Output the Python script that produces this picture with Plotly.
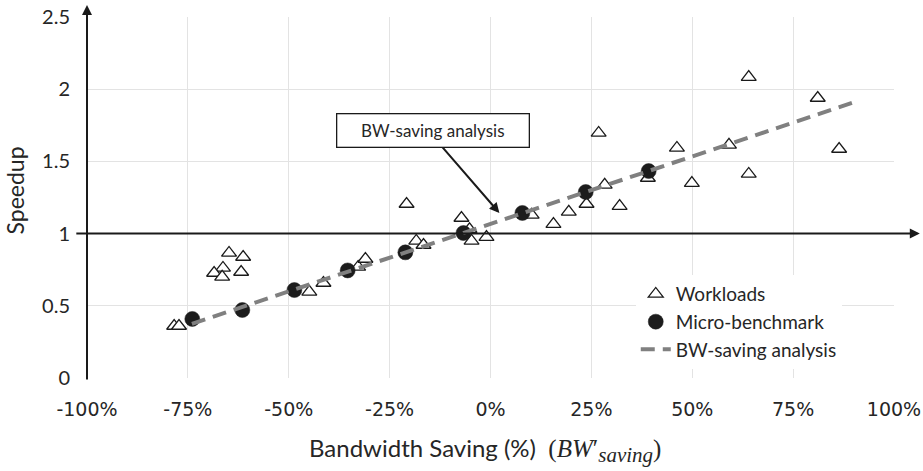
import plotly.graph_objects as go

# ---- data ----
workload_x = [-78.4, -77.2, -64.8, -61.3, -66.3, -68.5, -66.5, -61.8, -44.9, -41.4,
              -32.8, -31.0, -18.4, -16.6, -20.8, -7.2, -5.2, -4.7, -1.0, 10.2,
              15.6, 19.4, 23.8, 26.8, 28.3, 32.0, 39.0, 46.2, 49.9, 59.1,
              64.0, 64.0, 81.1, 86.4]
workload_y = [0.36, 0.36, 0.866, 0.838, 0.762, 0.727, 0.70, 0.734, 0.596, 0.658,
              0.769, 0.824, 0.949, 0.921, 1.205, 1.108, 1.03, 0.949, 0.976, 1.13,
              1.066, 1.15, 1.205, 1.697, 1.337, 1.19, 1.385, 1.593, 1.35, 1.614,
              2.084, 1.413, 1.939, 1.586]
micro_x = [-73.9, -61.5, -48.6, -35.4, -21.1, -6.7, 7.9, 23.6, 39.2]
micro_y = [0.409, 0.471, 0.609, 0.745, 0.870, 1.004, 1.143, 1.288, 1.433]
analysis_x = [-74.0, 89.6]
analysis_y = [0.375, 1.905]
x_ticks = [-100, -75, -50, -25, 0, 25, 50, 75, 100]
x_tick_labels = ["-100%", "-75%", "-50%", "-25%", "0%", "25%", "50%", "75%", "100%"]
y_ticks = [0, 0.5, 1, 1.5, 2, 2.5]
y_tick_labels = ["0", "0.5", "1", "1.5", "2", "2.5"]

TXT = "#262626"
fig = go.Figure()
fig.add_trace(go.Scatter(x=workload_x, y=workload_y, mode="markers", name="Workloads",
                         marker=dict(symbol="triangle-up", size=13, color="white",
                                     line=dict(color="#1a1a1a", width=1.3))))
fig.add_trace(go.Scatter(x=micro_x, y=micro_y, mode="markers", name="Micro-benchmark",
                         marker=dict(symbol="circle", size=15, color="#1c1c1c",
                                     line=dict(color="#1c1c1c", width=0.5))))
fig.add_trace(go.Scatter(x=analysis_x, y=analysis_y, mode="lines", name="BW-saving analysis",
                         line=dict(color="#808080", width=4, dash="14px,8px")))

fig.update_layout(
    width=923, height=471,
    margin=dict(l=87, r=29, t=17, b=93, autoexpand=False),
    paper_bgcolor="white", plot_bgcolor="white",
    showlegend=True,
    legend=dict(x=0.68, y=0.285, xanchor="left", yanchor="top", bgcolor="white",
                font=dict(family="Lato", size=19, color=TXT), borderwidth=0,
                tracegroupgap=0),
    xaxis=dict(range=[-100, 100], tickvals=x_ticks, ticktext=x_tick_labels,
               showgrid=True, gridcolor="#e3e3e3", gridwidth=1, zeroline=False,
               showline=False, ticks="", ticklabelstandoff=18, automargin=False,
               tickfont=dict(family="DejaVu Sans", size=19, color=TXT)),
    yaxis=dict(range=[0, 2.5], tickvals=y_ticks, ticktext=y_tick_labels,
               showgrid=True, gridcolor="#e3e3e3", gridwidth=1, zeroline=False,
               showline=False, ticks="", ticklabelstandoff=16, automargin=False,
               tickfont=dict(family="Lato", size=20, color=TXT)),
)

# axis arrows (horizontal at speedup 1, vertical at -100%)
fig.add_annotation(x=1.032, y=1, xref="paper", yref="y", ax=-845, ay=0,
                   axref="pixel", ayref="pixel",
                   text="", showarrow=True, arrowhead=2, arrowsize=1, arrowwidth=2,
                   arrowcolor="#1a1a1a")
fig.add_annotation(x=0, y=1.033, xref="paper", yref="paper", ax=0, ay=376,
                   axref="pixel", ayref="pixel",
                   text="", showarrow=True, arrowhead=2, arrowsize=1, arrowwidth=2,
                   arrowcolor="#1a1a1a")

# callout
fig.add_annotation(x=2.2, y=1.143, ax=-12.2, ay=1.607, xref="x", yref="y", axref="x", ayref="y",
                   text="", showarrow=True, arrowhead=2, arrowsize=1, arrowwidth=2,
                   arrowcolor="#1a1a1a")
fig.add_annotation(x=-14.3, y=1.717, xref="x", yref="y", text="BW-saving analysis",
                   showarrow=False, font=dict(family="Lato", size=17, color=TXT),
                   bgcolor="white", bordercolor="#1a1a1a", borderwidth=1.3,
                   width=183, height=24, borderpad=4)

# axis titles
fig.add_annotation(x=0.493, y=-0.2, xref="paper", yref="paper", xanchor="center", yanchor="middle",
                   text=("Bandwidth Saving (%)  "
                         "<span style=\"font-family:'Liberation Serif';font-size:25px\">(<i>BW</i>′"
                         "<sub><span style=\"font-size:21px\"><i>saving</i></span></sub>)</span>"),
                   showarrow=False, font=dict(family="Lato", size=24, color=TXT))
fig.add_annotation(x=-0.089, y=0.52, xref="paper", yref="paper", textangle=-90,
                   xanchor="center", yanchor="middle",
                   text="Speedup", showarrow=False,
                   font=dict(family="Lato", size=23, color=TXT))

fig.write_html("out.html", config={"displayModeBar": False},
               post_script="document.body.style.margin='0';")
